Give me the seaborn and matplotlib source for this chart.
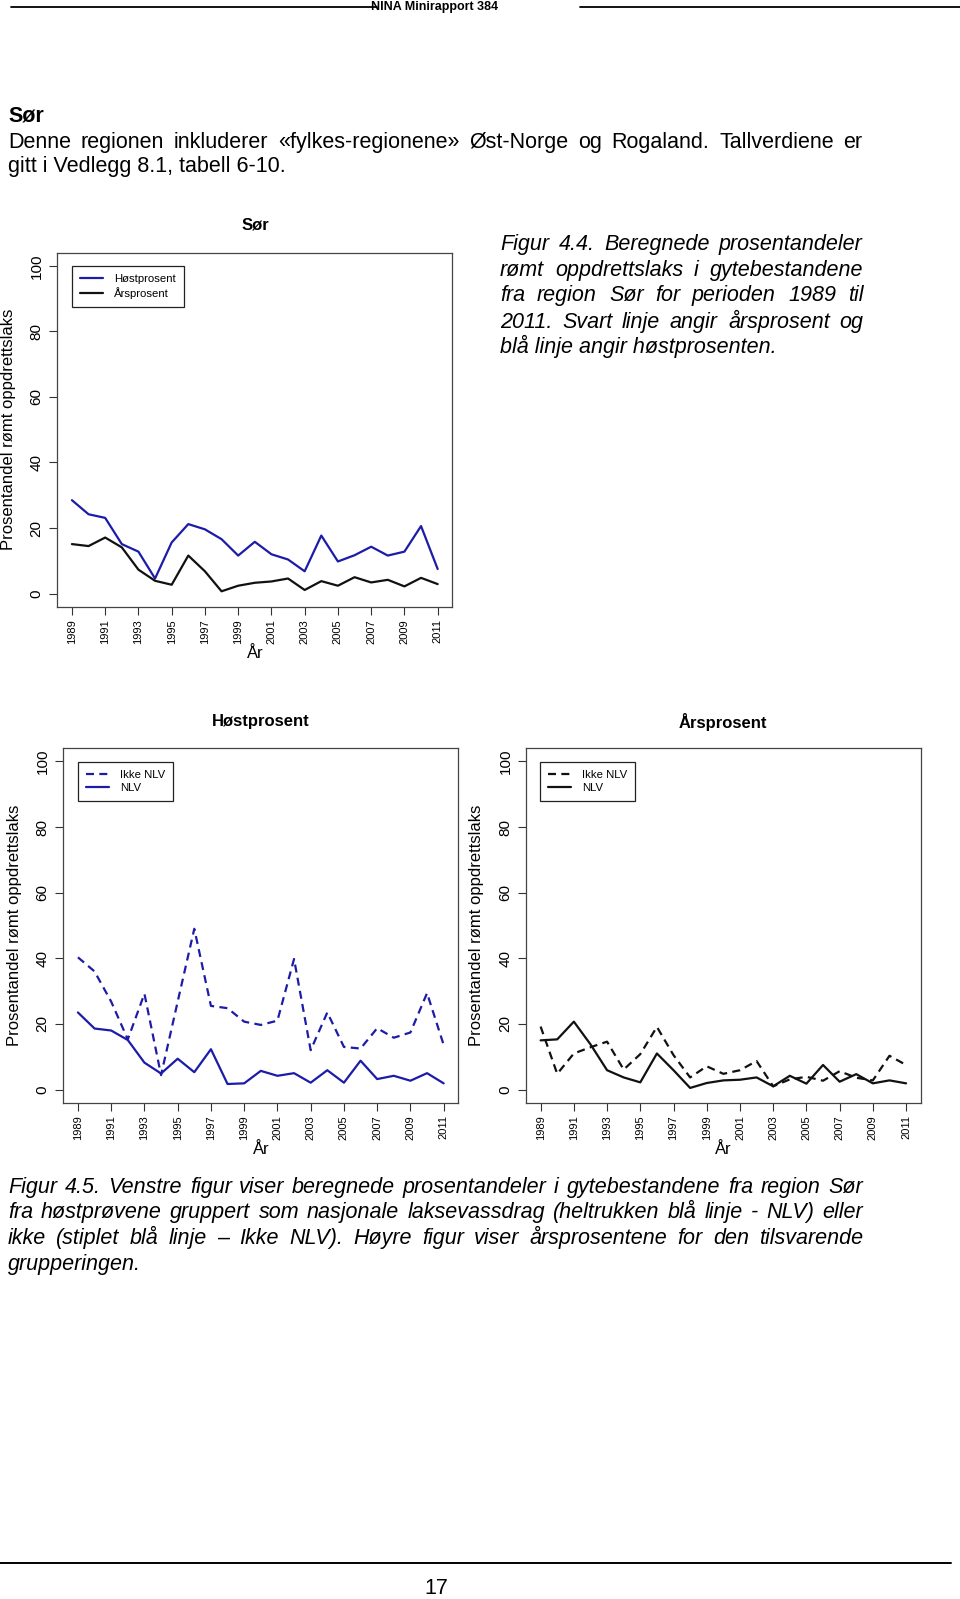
import matplotlib
matplotlib.use("Agg")
import matplotlib.pyplot as plt
from matplotlib.lines import Line2D
import seaborn as sns

sns.set_style("ticks")
plt.rcParams['font.family'] = ['Liberation Sans', 'DejaVu Sans']
plt.rcParams['text.color'] = 'black'
plt.rcParams['axes.labelcolor'] = 'black'
plt.rcParams['xtick.color'] = 'black'
plt.rcParams['ytick.color'] = 'black'

W, H = 960, 1599

years = list(range(1989, 2012))
host = [28.5, 24.2, 23.1, 15.1, 12.8, 4.6, 15.6, 21.2, 19.6, 16.6, 11.6, 15.8,
        12.0, 10.4, 6.8, 17.7, 9.8, 11.7, 14.3, 11.6, 12.8, 20.6, 7.5]
ars = [15.1, 14.5, 17.1, 14.1, 7.3, 3.9, 2.7, 11.6, 6.8, 0.7, 2.4, 3.3,
       3.7, 4.6, 1.1, 3.8, 2.4, 5.0, 3.4, 4.2, 2.2, 4.8, 2.9]
host_ikke = [40.3, 36.0, 26.8, 15.3, 29.2, 4.4, 26.8, 49.0, 25.5, 24.8, 20.7, 19.7,
             21.0, 39.8, 12.0, 23.5, 13.0, 12.5, 18.7, 15.8, 17.4, 29.4, 13.6]
host_nlv = [23.5, 18.6, 18.0, 15.1, 8.2, 4.9, 9.4, 5.3, 12.3, 1.7, 1.9, 5.7,
            4.2, 5.0, 2.1, 5.9, 2.1, 8.8, 3.2, 4.2, 2.7, 5.0, 1.9]
ars_ikke = [19.2, 4.8, 11.0, 12.9, 14.6, 6.1, 10.8, 19.1, 10.5, 3.7, 7.1, 4.8,
            5.9, 8.7, 1.0, 3.1, 3.9, 2.7, 5.6, 3.6, 2.8, 10.3, 7.5]
ars_nlv = [15.0, 15.3, 20.7, 13.8, 5.9, 3.7, 2.2, 11.0, 5.9, 0.5, 2.0, 2.8,
           3.0, 3.7, 1.0, 4.2, 1.8, 7.5, 2.4, 4.7, 1.9, 2.8, 1.9]

xtick_years = list(range(1989, 2012, 2))
ytick_vals = [0, 20, 40, 60, 80, 100]

BLUE = "#1c1ca8"
BLACK = "#111111"
DASH = (0, (3.6, 2.4))

fig = plt.figure(figsize=(W / 100, H / 100), dpi=100)
fig.patch.set_facecolor("white")


def fx(x):
    return x / W


def fy(y):
    return 1 - y / H


def make_ax(left, top, right, bottom):
    ax = fig.add_axes([fx(left), fy(bottom), (right - left) / W, (bottom - top) / H])
    ax.set_xlim(1988.12, 2011.88)
    ax.set_ylim(-4, 104)
    ax.set_xticks(xtick_years)
    ax.set_xticklabels([str(y) for y in xtick_years], rotation=90, fontsize=8)
    ax.set_yticks(ytick_vals)
    ax.set_yticklabels([str(v) for v in ytick_vals], rotation=90, fontsize=11, va='center')
    ax.tick_params(axis='x', length=5.8, width=0.8, pad=3.4, color="#333333")
    ax.tick_params(axis='y', length=5.8, width=0.8, pad=4.0, color="#333333")
    for s in ax.spines.values():
        s.set_color("#444444")
        s.set_linewidth(0.9)
    ax.set_facecolor("white")
    ax.grid(False)
    ax.set_xlabel("")
    ax.set_ylabel("")
    return ax


def draw(ax, vals, color, dashed, label):
    sns.lineplot(x=years, y=vals, ax=ax, color=color, linewidth=1.6, legend=False)
    ln = ax.lines[-1]
    if dashed:
        ln.set_linestyle(DASH)
    ln.set_label(label)
    return ln


def legend(ax, handles, x, y):
    lg = ax.legend(handles=handles, loc='upper left',
                   bbox_to_anchor=(fx(x), fy(y)), bbox_transform=fig.transFigure,
                   fontsize=8.2, frameon=True, fancybox=False, framealpha=1,
                   edgecolor="#222222", borderpad=0.7, handlelength=2.0,
                   handletextpad=1.0, labelspacing=0.3, borderaxespad=0)
    lg.get_frame().set_linewidth(0.9)


# ---- Chart 1: Sør
ax1 = make_ax(57.3, 252.7, 452.3, 606.7)
h1 = draw(ax1, host, BLUE, False, "Høstprosent")
h2 = draw(ax1, ars, BLACK, False, "Årsprosent")
legend(ax1, [h1, h2], 72, 266)

# ---- Chart 2: Høstprosent
ax2 = make_ax(63.3, 748.3, 458.3, 1102.7)
h3 = draw(ax2, host_ikke, BLUE, True, "Ikke NLV")
h4 = draw(ax2, host_nlv, BLUE, False, "NLV")
legend(ax2, [h3, h4], 78, 762)

# ---- Chart 3: Årsprosent
ax3 = make_ax(526.0, 748.3, 920.7, 1102.7)
h5 = draw(ax3, ars_ikke, BLACK, True, "Ikke NLV")
h6 = draw(ax3, ars_nlv, BLACK, False, "NLV")
legend(ax3, [h5, h6], 540, 762)

ylab = "Prosentandel rømt oppdrettslaks"


def ftext(x, y, s, **kw):
    return fig.text(fx(x), fy(y), s, **kw)


# axis labels & titles
ftext(9, 429.7, ylab, rotation=90, ha='center', va='center', fontsize=12)
ftext(15, 925.5, ylab, rotation=90, ha='center', va='center', fontsize=12)
ftext(477, 925.5, ylab, rotation=90, ha='center', va='center', fontsize=12)
ftext(255, 653, "År", ha='center', va='center', fontsize=12)
ftext(261, 1150, "År", ha='center', va='center', fontsize=12)
ftext(723, 1150, "År", ha='center', va='center', fontsize=12)
ftext(255, 225.5, "Sør", ha='center', va='center', fontsize=12, fontweight='bold')
ftext(261, 722, "Høstprosent", ha='center', va='center', fontsize=12, fontweight='bold')
ftext(723, 722, "Årsprosent", ha='center', va='center', fontsize=12, fontweight='bold')

# ---- page text
renderer = fig.canvas.get_renderer()
FS = 15.5


def line_text(x0, x1, yc, s, justify=True, **kw):
    base = round(yc + 7.5) - 0.25
    words = s.split(" ")
    if not justify or len(words) == 1:
        ftext(x0, base, s, ha='left', va='baseline', fontsize=FS, **kw)
        return
    texts = [ftext(0, base, w, ha='left', va='baseline', fontsize=FS, **kw) for w in words]
    widths = [t.get_window_extent(renderer).width for t in texts]
    gap = (x1 - x0 - sum(widths)) / (len(words) - 1)
    x = x0
    for t, wdt in zip(texts, widths):
        t.set_x(fx(round(x)))
        x += wdt + gap


# header
fig.add_artist(Line2D([fx(11), fx(377)], [fy(6.5), fy(6.5)], transform=fig.transFigure,
                      color="black", lw=1.3))
fig.add_artist(Line2D([fx(580), fx(960)], [fy(6.5), fy(6.5)], transform=fig.transFigure,
                      color="black", lw=1.3))
ftext(435, 7, "NINA Minirapport 384", ha='center', va='center', fontsize=9, fontweight='bold')

# heading and body
ftext(8, round(114 + 7.5) - 0.25, "Sør", ha='left', va='baseline', fontsize=FS, fontweight='bold')
line_text(8, 862, 140,
          "Denne regionen inkluderer «fylkes-regionene» Øst-Norge og Rogaland. Tallverdiene er")
line_text(8, 862, 165, "gitt i Vedlegg 8.1, tabell 6-10.", justify=False)

# caption 4.4
cap44 = ["Figur 4.4. Beregnede prosentandeler",
         "rømt oppdrettslaks i gytebestandene",
         "fra region Sør for perioden 1989 til",
         "2011. Svart linje angir årsprosent og",
         "blå linje angir høstprosenten."]
cap44_y = [243, 268.3, 293.8, 320.3, 345.9]
for i, (s, yy) in enumerate(zip(cap44, cap44_y)):
    line_text(500, 863, yy, s, justify=(i < len(cap44) - 1), style='italic')

# caption 4.5
cap45 = ["Figur 4.5. Venstre figur viser beregnede prosentandeler i gytebestandene fra region Sør",
         "fra høstprøvene gruppert som nasjonale laksevassdrag (heltrukken blå linje - NLV) eller",
         "ikke (stiplet blå linje – Ikke NLV). Høyre figur viser årsprosentene for den tilsvarende",
         "grupperingen."]
cap45_y = [1185.5, 1211, 1236.5, 1262]
for i, (s, yy) in enumerate(zip(cap45, cap45_y)):
    line_text(8, 863, yy, s, justify=(i < len(cap45) - 1), style='italic')

# footer
fig.add_artist(Line2D([fx(0), fx(951)], [fy(1563), fy(1563)], transform=fig.transFigure,
                      color="black", lw=1.4))
ftext(436, 1588, "17", ha='center', va='center', fontsize=FS)

fig.savefig("out.png", dpi=100, facecolor="white")
